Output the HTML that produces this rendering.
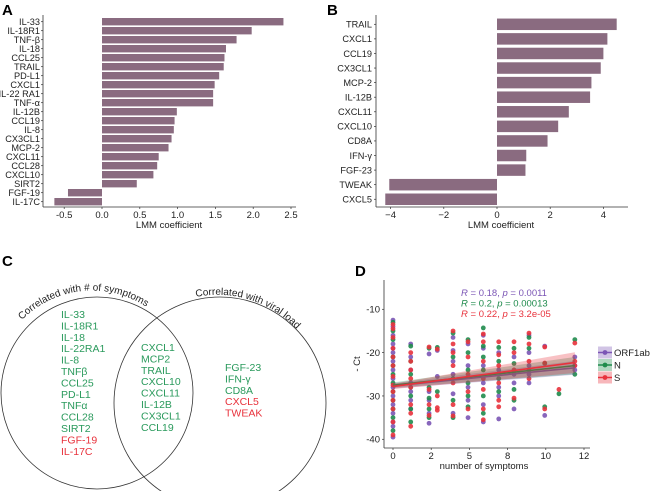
<!DOCTYPE html>
<html><head><meta charset="utf-8"><style>
html,body{margin:0;padding:0;background:#fff;}
svg{display:block;font-family:"Liberation Sans",Arial,sans-serif;}
</style></head><body>
<svg id="fig" width="650" height="491" viewBox="0 0 650 491" xmlns="http://www.w3.org/2000/svg">
<g id="pa"></g>
<g id="pb"></g>
<g id="pc">
  <text x="2" y="266" font-size="15" font-weight="bold">C</text>
  <circle cx="97" cy="393" r="96" fill="none" stroke="#333" stroke-width="0.8"/>
  <circle cx="220" cy="403" r="106" fill="none" stroke="#333" stroke-width="0.8"/>
  <path id="arcL" d="M 22 320 A 98 98 0 0 1 152 311" fill="none"/>
  <path id="arcR" d="M 196 297 A 108 108 0 0 1 300 333" fill="none"/>
  <text font-size="10" fill="#222"><textPath href="#arcL">Correlated with # of symptoms</textPath></text>
  <text font-size="10" fill="#222"><textPath href="#arcR">Correlated with viral load</textPath></text>
  <g id="vennText" font-size="10.5"></g>
</g>
<g id="pd"></g>
</svg>
<script>
const NS="http://www.w3.org/2000/svg";
function mk(p,t,a){const e=document.createElementNS(NS,t);for(const k in a)e.setAttribute(k,a[k]);p.appendChild(e);return e;}

// ---- Panel A data
const aLabels=["IL-33","IL-18R1","TNF-β","IL-18","CCL25","TRAIL","PD-L1","CXCL1","IL-22 RA1","TNF-α","IL-12B","CCL19","IL-8","CX3CL1","MCP-2","CXCL11","CCL28","CXCL10","SIRT2","FGF-19","IL-17C"];
const aValues=[2.4,1.98,1.78,1.64,1.62,1.61,1.55,1.49,1.47,1.47,0.99,0.96,0.95,0.92,0.88,0.75,0.73,0.68,0.46,-0.45,-0.63];
const aTicks=[-0.5,0,0.5,1,1.5,2,2.5];
const aTickLabels=["-0.5","0.0","0.5","1.0","1.5","2.0","2.5"];
// ---- Panel B data
const bLabels=["TRAIL","CXCL1","CCL19","CX3CL1","MCP-2","IL-12B","CXCL11","CXCL10","CD8A","IFN-γ","FGF-23","TWEAK","CXCL5"];
const bValues=[4.5,4.15,4.0,3.9,3.55,3.5,2.7,2.3,1.9,1.1,1.07,-4.05,-4.2];
const bTicks=[-4,-2,0,2,4];
const bTickLabels=["−4","−2","0","2","4"];
// ---- Panel C data
const vennLeft=["IL-33","IL-18R1","IL-18","IL-22RA1","IL-8","TNFβ","CCL25","PD-L1","TNFα","CCL28","SIRT2","FGF-19","IL-17C"];
const vennLeftUp=[1,1,1,1,1,1,1,1,1,1,1,0,0];
const vennMid=["CXCL1","MCP2","TRAIL","CXCL10","CXCL11","IL-12B","CX3CL1","CCL19"];
const vennRight=["FGF-23","IFN-γ","CD8A","CXCL5","TWEAK"];
const vennRightUp=[1,1,1,0,0];
// ---- Panel D data
const dTicksX=[0,2.5,5,7.5,10,12.5];
const dTickLabelsX=["0","2","5","8","10","12"];
const dTicksY=[-10,-20,-30,-40];
const orfX=[0,0,0,0,0,0,0,0,0,0,0,0,0,0,0,0,1.16,1.16,1.16,1.16,1.16,1.16,1.16,2.36,2.36,2.36,2.36,2.36,2.9,2.9,3.93,3.93,3.93,3.93,3.93,3.93,4.91,4.91,4.91,4.91,4.91,5.91,5.91,5.91,5.91,5.91,5.91,6.92,6.92,6.92,6.92,6.92,7.92,7.92,7.92,7.92,8.9,8.9,8.9,8.9,8.9,9.93,9.93,11.9,11.9,11.9];
const orfY=[-12.5,-14,-16,-18,-19,-20,-22,-24,-26,-28,-30,-32,-34,-36,-37,-39.5,-18,-21,-24,-27,-29,-31,-33,-20.3,-29,-31,-34,-36.3,-19.5,-25.5,-16.5,-19.5,-22,-25,-29.5,-34,-18,-23,-28,-31,-35,-16,-19,-23,-27,-32,-36,-20,-24,-28,-30,-35.3,-21,-25,-27,-33,-16,-20,-23,-25,-27,-18.5,-34.5,-21,-23,-24];
const nX=[0,0,0,0,0,0,0,0,0,0,0,0,1.16,1.16,1.16,1.16,1.16,1.16,1.16,2.36,2.36,2.36,2.36,2.36,2.9,2.9,3.93,3.93,3.93,3.93,3.93,4.91,4.91,4.91,4.91,4.91,4.91,5.91,5.91,5.91,5.91,5.91,5.91,6.92,6.92,6.92,6.92,7.92,7.92,7.92,7.92,8.9,8.9,8.9,9.93,9.93,10.86,11.9,11.9];
const nY=[-13,-15,-17,-21,-23,-25,-27,-29,-31,-33,-35,-38,-18.5,-22,-25,-28,-30,-33,-36,-19,-28,-30.5,-33,-35,-18.8,-29,-15.5,-21,-26,-31,-35,-17,-20,-24,-27,-30,-32.5,-14.3,-18.5,-21,-24,-30,-34,-18.8,-22,-26,-29,-19,-22.5,-28.5,-31,-16.5,-19,-24,-22.5,-32.5,-29.5,-17,-25];
const sX=[0,0,0,0,0,0,0,0,0,0,0,0,0,1.16,1.16,1.16,1.16,1.16,1.16,1.16,1.16,2.36,2.36,2.36,2.36,2.9,2.9,2.9,2.9,3.93,3.93,3.93,3.93,3.93,3.93,3.93,4.91,4.91,4.91,4.91,4.91,5.91,5.91,5.91,5.91,5.91,5.91,5.91,6.92,6.92,6.92,6.92,6.92,6.92,7.92,7.92,7.92,7.92,8.9,8.9,8.9,8.9,9.93,9.93,9.93,10.86,11.9,11.9,11.9];
const sY=[-13.5,-14.5,-16.5,-19,-21,-23,-25.5,-27.5,-29,-31,-33,-36,-39,-20,-22,-24,-26,-28,-32,-34,-37,-18.7,-28.5,-32,-34.5,-19.2,-30,-32.7,-33.3,-15,-18,-20,-23,-27,-32,-34.6,-17.5,-21,-25,-29,-33,-15.7,-17.5,-22,-26,-28.5,-33,-35.5,-17.5,-20.5,-23,-27,-31,-32.5,-17.5,-20,-24,-30.5,-15.5,-18,-22,-26,-18.7,-22.4,-33,-28.5,-17.8,-22,-23];
const fitStart=[-27.7,-27.5,-27.8];
const fitEnd=[-23.5,-23.0,-22.3];
const seriesNames=["ORF1ab","N","S"];
const seriesColors=["#7b55b5","#1f8b4c","#e8323c"];
const statR=["0.18","0.2","0.22"];
const statP=["0.0011","0.00013","3.2e-05"];

const BAR="#8a6b80";
function txt(p,x,y,s,a){const e=mk(p,"text",Object.assign({x:x,y:y,"font-size":9.5,fill:"#222"},a||{}));e.textContent=s;return e;}

// ===== Panel A
(function(){
 const g=document.getElementById("pa");
 txt(g,2,15,"A",{"font-size":15,"font-weight":"bold",fill:"#000"});
 const x=v=>102+v*75.6, y0=21.7, step=9.0, bh=7.4;
 const ax=43, xb=207;
 aValues.forEach((v,i)=>{
  const cy=y0+i*step;
  const r=mk(g,"rect",{x:Math.min(x(0),x(v)),y:cy-bh/2,width:Math.abs(x(v)-x(0)),height:bh,fill:BAR});
  
  
  const t=txt(g,ax-3,cy+3.3,aLabels[i],{"text-anchor":"end","font-size":9.2});
  
  
  mk(g,"line",{x1:ax-2,x2:ax,y1:cy,y2:cy,stroke:"#333","stroke-width":0.7});
 });
 mk(g,"line",{x1:ax,x2:ax,y1:15,y2:xb,stroke:"#333","stroke-width":0.8});
 mk(g,"line",{x1:ax,x2:296,y1:xb,y2:xb,stroke:"#333","stroke-width":0.8});
 aTicks.forEach((v,i)=>{
  mk(g,"line",{x1:x(v),x2:x(v),y1:xb,y2:xb+2,stroke:"#333","stroke-width":0.7});
  const t=txt(g,x(v),xb+11,aTickLabels[i],{"text-anchor":"middle"});
  
  
 });
 const t=txt(g,169,228,"LMM coefficient",{"text-anchor":"middle"});
 
 
})();

// ===== Panel B
(function(){
 const g=document.getElementById("pb");
 txt(g,327,15,"B",{"font-size":15,"font-weight":"bold",fill:"#000"});
 const x=v=>497+v*26.6, y0=24.3, step=14.58, bh=11.5;
 const ax=376, xb=207;
 bValues.forEach((v,i)=>{
  const cy=y0+i*step;
  const r=mk(g,"rect",{x:Math.min(x(0),x(v)),y:cy-bh/2,width:Math.abs(x(v)-x(0)),height:bh,fill:BAR});
  
  
  const t=txt(g,ax-4,cy+3.3,bLabels[i],{"text-anchor":"end","font-size":9.2});
  
  
  mk(g,"line",{x1:ax-2,x2:ax,y1:cy,y2:cy,stroke:"#333","stroke-width":0.7});
 });
 mk(g,"line",{x1:ax,x2:ax,y1:15,y2:xb,stroke:"#333","stroke-width":0.8});
 mk(g,"line",{x1:ax,x2:628,y1:xb,y2:xb,stroke:"#333","stroke-width":0.8});
 bTicks.forEach((v,i)=>{
  mk(g,"line",{x1:x(v),x2:x(v),y1:xb,y2:xb+2,stroke:"#333","stroke-width":0.7});
  const t=txt(g,x(v),xb+11,bTickLabels[i],{"text-anchor":"middle"});
  
  
 });
 const t=txt(g,501,228,"LMM coefficient",{"text-anchor":"middle"});
 
 
})();

// ===== Panel C text
(function(){
 const g=document.getElementById("vennText");
 const G="#2a9a5c",R="#e8323c",st=11.4;
 vennLeft.forEach((s,i)=>{const t=txt(g,61,318+i*st,s,{fill:vennLeftUp[i]?G:R,"font-size":10.5});
  });
 vennMid.forEach((s,i)=>{const t=txt(g,141,351+i*st,s,{fill:G,"font-size":10.5});
  });
 vennRight.forEach((s,i)=>{const t=txt(g,225,371+i*st,s,{fill:vennRightUp[i]?G:R,"font-size":10.5});
  });
})();

// ===== Panel D
(function(){
 const g=document.getElementById("pd");
 txt(g,355,276,"D",{"font-size":15,"font-weight":"bold",fill:"#000"});
 const x=v=>393+v*15.28, y=v=>309.3+(-10-v)*4.333;
 const ax=384, xb=448;
 mk(g,"line",{x1:ax,x2:ax,y1:280,y2:xb,stroke:"#333","stroke-width":0.8});
 mk(g,"line",{x1:ax,x2:590,y1:xb,y2:xb,stroke:"#333","stroke-width":0.8});
 dTicksY.forEach(v=>{
  mk(g,"line",{x1:ax-2,x2:ax,y1:y(v),y2:y(v),stroke:"#333","stroke-width":0.7});
  const t=txt(g,ax-4,y(v)+3.3,String(v),{"text-anchor":"end"});
  
 });
 dTicksX.forEach((v,i)=>{
  mk(g,"line",{x1:x(v),x2:x(v),y1:xb,y2:xb+2,stroke:"#333","stroke-width":0.7});
  const t=txt(g,x(v),xb+11,dTickLabelsX[i],{"text-anchor":"middle"});
  
 });
 let t=txt(g,484,469,"number of symptoms",{"text-anchor":"middle"});
 
 t=txt(g,360,364,"- Ct",{"text-anchor":"middle",transform:"rotate(-90 360 364)"});
 
 const XS=[orfX,nX,sX],YS=[orfY,nY,sY];
 [0,1,2].forEach(k=>{
  XS[k].forEach((xv,i)=>{
   const c=mk(g,"circle",{cx:x(xv),cy:y(YS[k][i]),r:2.4,fill:seriesColors[k],"fill-opacity":0.9});
   
   
  });
 });
 const xe=11.9;
 [0,1,2].forEach(k=>{
  const w0=0.6,w1=1.6+k*0.4;
  const band=mk(g,"polygon",{points:`${x(0)},${y(fitStart[k]+w0)} ${x(xe)},${y(fitEnd[k]+w1)} ${x(xe)},${y(fitEnd[k]-w1)} ${x(0)},${y(fitStart[k]-w0)}`,fill:seriesColors[k],"fill-opacity":0.3});
  
  
  const l=mk(g,"line",{x1:x(0),y1:y(fitStart[k]),x2:x(xe),y2:y(fitEnd[k]),stroke:seriesColors[k],"stroke-width":1.6});
  
  
 });
 seriesNames.forEach((s,k)=>{
  const t=mk(g,"text",{x:461,y:296+k*10.5,"font-size":9.5,fill:seriesColors[k]});
  
  
  const a=mk(t,"tspan",{"font-style":"italic"});a.textContent="R";
  const b=mk(t,"tspan",{});b.textContent=" = "+statR[k]+", ";
  const c=mk(t,"tspan",{"font-style":"italic"});c.textContent="p";
  const d=mk(t,"tspan",{});d.textContent=" = "+statP[k];
 });
 seriesNames.forEach((s,k)=>{
  const cy=352.5+k*12.5;
  const lg=mk(g,"g",{});
  
  
  mk(lg,"rect",{x:598,y:cy-6,width:14,height:12,fill:seriesColors[k],"fill-opacity":0.35});
  mk(lg,"line",{x1:598,x2:612,y1:cy,y2:cy,stroke:seriesColors[k],"stroke-width":1.5});
  mk(lg,"circle",{cx:605,cy:cy,r:2.4,fill:seriesColors[k]});
  txt(lg,614,cy+3.5,s,{"font-size":9.5});
 });
})();
</script>
</body></html>
